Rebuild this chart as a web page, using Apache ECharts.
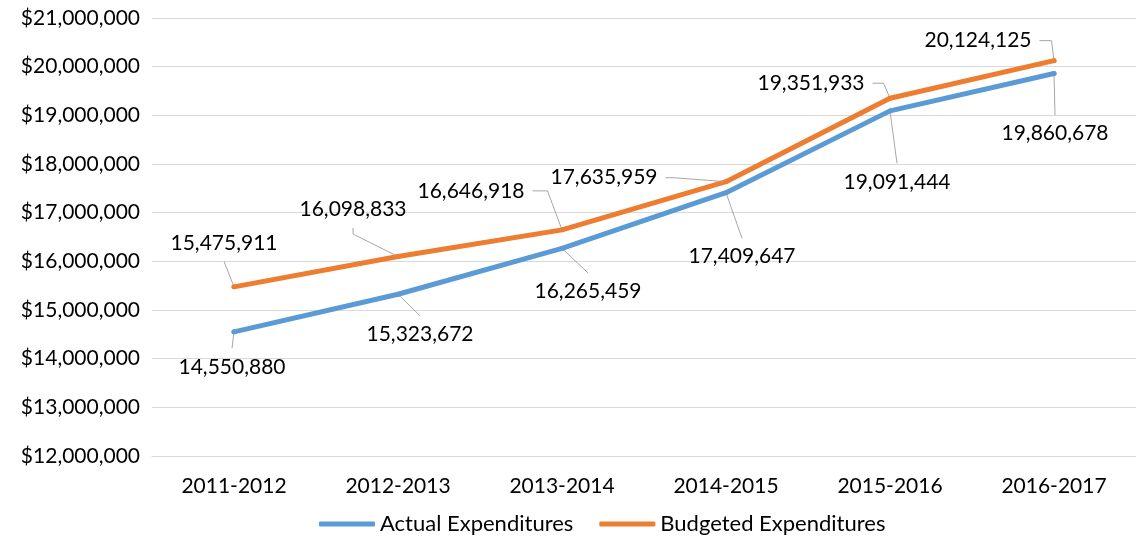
<!DOCTYPE html>
<html>
<head>
<meta charset="utf-8">
<script src="https://cdn.jsdelivr.net/npm/echarts@6/dist/echarts.min.js"></script>
<style>
    html, body {margin: 0; padding: 0; background: #fff;}
    #chart {width: 1136px; height: 537px;}
</style>
</head>
<body>
<div id="chart"></div>
<script>
    const categories = ['2011-2012', '2012-2013', '2013-2014', '2014-2015', '2015-2016', '2016-2017'];
    const actualExpenditures = [14550880, 15323672, 16265459, 17409647, 19091444, 19860678];
    const budgetedExpenditures = [15475911, 16098833, 16646918, 17635959, 19351933, 20124125];

    // where each data callout sits, relative to its point (px)
    const actualOffsets = [[-2, 35], [22, 40], [26, 43], [16, 64], [7, 71], [1, 60]];
    const budgetedOffsets = [[-10, -44], [-45, -47], [-91, -39], [-122, -4], [-79, -15], [-76, -20]];
    const actualLeader = [0, 0, 0, 0, 0, 0];
    const budgetedLeader = [0, 6, 15, 8, 11, 12];

    const fmt = v => v.toLocaleString('en-US');
    const font = 'Lato';

    const makeData = (values, leader) => values.map((v, i) => ({
        value: v,
        labelLine: {length2: leader[i]}
    }));

    const makeSeries = (name, values, color, offsets, leader) => ({
        name: name,
        type: 'line',
        data: makeData(values, leader),
        symbol: 'circle',
        symbolSize: 5,
        showSymbol: true,
        itemStyle: {color: color},
        lineStyle: {color: color, width: 5, cap: 'round', join: 'round'},
        label: {
            show: true,
            position: 'inside',
            formatter: p => fmt(p.value),
            fontFamily: font,
            fontSize: 21,
            color: '#000',
            padding: [8, 8],
            backgroundColor: 'rgba(0,0,0,0)'
        },
        labelLine: {
            show: true,
            lineStyle: {color: '#a6a6a6', width: 1}
        },
        labelLayout: p => ({dx: offsets[p.dataIndex][0], dy: offsets[p.dataIndex][1]}),
        emphasis: {disabled: true}
    });

    const chart = echarts.init(document.getElementById('chart'));
    chart.setOption({
        animation: false,
        textStyle: {fontFamily: font},
        grid: {left: 152, top: 18, width: 992, height: 438},
        legend: {
            left: 314,
            top: 508,
            itemWidth: 56,
            itemHeight: 5,
            itemGap: 26,
            icon: 'roundRect',
            textStyle: {fontFamily: font, fontSize: 22, color: '#000'},
            data: ['Actual Expenditures', 'Budgeted Expenditures']
        },
        xAxis: {
            type: 'category',
            data: categories,
            boundaryGap: true,
            axisLine: {lineStyle: {color: '#d9d9d9', width: 1}},
            axisTick: {show: false},
            axisLabel: {fontFamily: font, fontSize: 21, color: '#000', margin: 20}
        },
        yAxis: {
            type: 'value',
            min: 12000000,
            max: 21000000,
            interval: 1000000,
            axisLine: {show: false},
            axisTick: {show: false},
            splitLine: {lineStyle: {color: '#d9d9d9', width: 1}},
            axisLabel: {
                fontFamily: font, fontSize: 21, color: '#000', margin: 12,
                formatter: v => '$' + fmt(v)
            }
        },
        series: [
            makeSeries('Actual Expenditures', actualExpenditures, '#5b9bd5', actualOffsets, actualLeader),
            makeSeries('Budgeted Expenditures', budgetedExpenditures, '#ed7d31', budgetedOffsets, budgetedLeader)
        ]
    });
</script>
</body>
</html>
